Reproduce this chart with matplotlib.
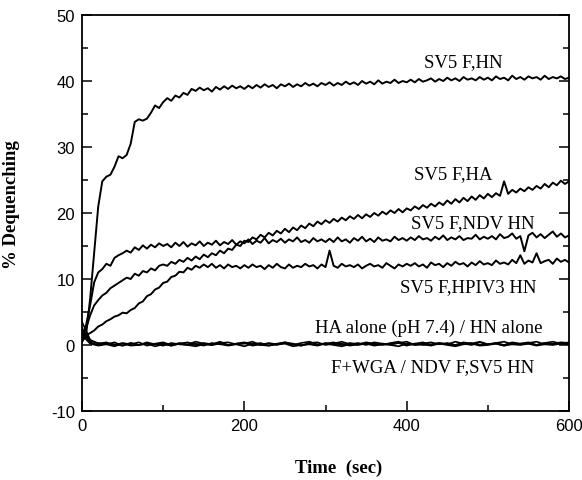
import matplotlib
matplotlib.use("Agg")
import matplotlib.pyplot as plt
from matplotlib.ticker import MultipleLocator
import numpy as np

plt.rcParams['axes.unicode_minus'] = False

# --------------------------------------------------------------------
# Data (read off the figure), rising traces sampled every 5 s
# --------------------------------------------------------------------
sv5_hn = [0.5, 1.5, 7, 14, 21, 24.8, 25.5, 25.8, 27, 28.6,
          28.3, 28.8, 30.5, 33.8, 34.2, 34.0, 34.3, 35.2, 36.3, 35.9,
          36.8, 37.4, 37.0, 37.8, 37.5, 38.2, 37.9, 38.8, 38.5, 39.0,
          38.6, 38.9, 38.4, 39.1, 38.7, 39.2, 38.8, 39.3, 38.9, 39.2,
          38.8,
          39.3, 38.9, 39.4, 39.0, 39.5, 39.1, 39.4, 38.9, 39.5, 39.2,
          39.6, 39.1, 39.5, 39.2, 39.7, 39.3, 39.6, 39.2, 39.7, 39.4,
          39.8, 39.3, 39.7, 39.4, 39.9, 39.5, 39.8, 39.4, 40.0, 39.6,
          39.9, 39.5, 40.1, 39.6, 39.9, 39.7, 40.2, 39.7, 40.0, 39.8,
          40.2, 39.8, 40.3, 39.9, 40.1, 40.4, 39.9, 40.3, 40.0, 40.5,
          40.1, 40.4, 40.0, 40.6, 40.2, 40.4, 40.1, 40.6, 40.2, 40.5,
          40.1, 40.7, 40.3, 40.5, 40.1, 40.8, 40.3, 40.6, 40.2, 40.7,
          40.4, 40.6, 40.2, 40.8, 40.3, 40.6, 40.4, 40.7, 40.3, 40.5]

sv5_ndv = [1.5, 3.0, 6.0, 9.5, 11.0, 11.5, 12.3, 12.0, 13.2, 13.6,
           13.9, 14.3, 14.0, 14.8, 14.4, 15.1, 14.6, 15.2, 14.8, 15.4,
           15.0,
           15.3, 14.8, 15.5, 15.0, 15.6, 14.9, 15.4, 15.1, 15.7, 15.0,
           15.5, 15.2, 15.8, 15.1, 15.6, 15.3, 15.9, 15.2, 15.7, 15.4,
           16.0, 15.3, 15.8, 15.5, 16.2, 15.4, 15.9, 15.6, 16.1, 15.5,
           16.0, 15.7, 16.3, 15.6, 15.9, 15.5, 16.2, 15.7, 16.0, 15.6,
           16.1, 15.6, 16.3, 15.7, 16.0, 15.5, 16.2, 15.8, 16.4, 15.7,
           16.1, 15.6, 16.3, 15.8, 16.0, 15.7, 16.4, 15.9, 16.2, 15.8,
           16.3, 15.9, 16.5, 16.0, 16.2, 15.8, 16.4, 16.0, 16.6, 15.9,
           16.3, 16.0, 16.5, 15.9, 16.2, 16.1, 16.7, 16.0, 16.4, 16.1,
           16.5, 16.0, 16.8, 16.2, 16.4, 16.9, 16.1, 16.5, 14.2, 16.6,
           17.0, 16.3, 16.8, 16.2, 16.7, 17.2, 16.4, 16.9, 16.3, 16.6]

sv5_ha = [1.0, 2.5, 4.5, 6.0, 6.8, 7.5, 7.9, 8.6, 9.0, 9.4,
          9.8, 10.2, 10.0, 10.8, 10.5, 11.2, 11.0, 11.6, 11.3, 12.0,
          12.2,
          12.0, 12.6, 12.3, 12.9, 12.6, 13.2, 12.8, 13.4, 13.0, 13.7,
          13.3, 13.9, 13.6, 14.3, 13.9, 14.6, 14.4, 15.2, 15.0, 15.8,
          15.6, 16.3, 16.0, 16.7, 16.3, 17.0, 16.6, 17.3, 16.9, 17.6,
          17.1, 17.8, 17.4, 18.1, 17.7, 18.4, 18.0, 18.7, 18.3, 18.9,
          18.5, 19.1, 18.7, 19.3, 18.9, 19.5, 19.1, 19.7, 19.2, 19.8,
          19.4, 20.0, 19.6, 20.2, 19.8, 20.4, 20.0, 20.6, 20.1, 20.7,
          20.4, 21.0, 20.6, 21.2, 20.8, 21.4, 21.0, 21.6, 21.2, 21.9,
          21.4, 22.1, 21.6, 22.3, 21.8, 22.5, 22.0, 22.7, 22.2, 22.9,
          22.4, 23.0, 22.6, 24.8, 22.9, 23.5, 23.1, 23.7, 23.3, 23.9,
          23.5, 24.1, 23.7, 24.4, 23.9, 24.6, 24.2, 24.9, 24.4, 24.8]

sv5_hpiv3 = [0.5, 1.5, 1.8, 2.2, 2.8, 3.1, 3.6, 3.9, 4.3, 4.5,
             4.9, 4.8, 5.3, 5.6, 6.3, 6.6, 7.4, 7.7, 8.4, 8.7,
             9.4,
             9.6, 10.3, 10.5, 11.1, 11.0, 11.7, 11.4, 12.0, 11.7, 12.2,
             11.8, 12.3, 11.7, 12.1, 11.6, 12.2, 11.8, 12.0, 11.6, 12.1,
             11.7, 12.2, 11.8, 12.0, 11.5, 12.1, 11.7, 12.3, 11.8, 11.6,
             12.2, 11.7, 12.0, 11.8, 12.3, 11.9, 12.1, 11.6, 12.2, 11.8,
             14.3, 12.0, 11.7, 12.3, 11.9, 12.1, 11.8, 12.2, 11.6, 12.0,
             12.3, 11.9, 12.1, 11.7, 12.4, 12.0, 11.6, 12.2, 11.9, 12.3,
             12.0, 12.4, 11.9, 12.2, 11.7, 12.5, 12.1, 12.3, 11.8, 12.4,
             12.0, 12.6, 12.2, 12.4, 11.9, 12.5, 12.1, 12.7, 12.2, 12.4,
             12.1, 12.8, 12.3, 12.5, 12.2, 12.9, 12.4, 13.6, 12.3, 12.8,
             12.5, 13.9, 12.4, 12.7, 12.9, 12.3, 13.1, 12.6, 12.9, 12.5]

# baseline (control) traces, sampled every 10 s
ha_alone = [2.5, 0.6, 0.3, 0.1, 0.4, -0.1, 0.3, 0.0, 0.4, 0.1, 0.3, -0.1, 0.2, 0.4, 0.0,
            0.3, 0.1, 0.5, 0.0, 0.2, 0.4, 0.1, 0.3, -0.1, 0.2, 0.4, 0.0, 0.3, 0.5, 0.1,
            0.2, 0.4, 0.0, 0.3, 0.1, 0.4, 0.2, 0.0, 0.3, 0.5, 0.1, 0.2, 0.4, 0.0, 0.3,
            0.1, 0.5, 0.2, 0.0, 0.4, 0.1, 0.3, 0.5, 0.1, 0.2, 0.4, 0.0, 0.3, 0.5, 0.2, 0.4]
hn_alone = [3.5, 0.8, 0.2, 0.4, 0.0, 0.3, 0.1, 0.4, -0.1, 0.2, 0.4, 0.0, 0.3, 0.1, 0.5,
            0.2, 0.0, 0.3, 0.4, 0.1, 0.2, 0.5, 0.0, 0.3, 0.1, 0.4, 0.2, -0.1, 0.3, 0.4,
            0.0, 0.2, 0.5, 0.1, 0.3, 0.0, 0.4, 0.2, 0.1, 0.3, 0.5, 0.0, 0.2, 0.4, 0.1,
            0.3, 0.0, 0.4, 0.2, 0.5, 0.1, 0.3, 0.0, 0.4, 0.2, 0.3, 0.5, 0.1, 0.2, 0.4, 0.3]
f_wga = [1.5, 0.2, -0.1, 0.1, -0.2, 0.2, -0.1, 0.0, 0.2, -0.2, 0.1, -0.1, 0.2, 0.0, -0.2,
         0.1, 0.0, 0.2, -0.1, 0.1, -0.2, 0.2, 0.0, -0.1, 0.1, 0.2, -0.2, 0.0, 0.1, -0.1,
         0.2, 0.0, -0.2, 0.1, 0.0, 0.2, -0.1, 0.1, 0.0, -0.2, 0.2, 0.0, 0.1, -0.1, 0.2,
         0.0, -0.2, 0.1, 0.2, -0.1, 0.0, 0.2, -0.1, 0.1, 0.0, 0.2, -0.1, 0.1, 0.0, 0.2, 0.1]
ndv_f_sv5_hn = [2.0, 0.4, 0.0, 0.2, 0.1, -0.1, 0.3, 0.0, 0.2, 0.1, -0.1, 0.3, 0.1, 0.0, 0.2,
                -0.1, 0.3, 0.1, 0.0, 0.2, 0.3, -0.1, 0.1, 0.2, 0.0, 0.3, 0.1, -0.1, 0.2, 0.0,
                0.3, 0.1, 0.2, -0.1, 0.1, 0.3, 0.0, 0.2, 0.1, 0.3, -0.1, 0.2, 0.0, 0.1, 0.3,
                0.1, 0.0, 0.2, 0.3, 0.0, 0.1, 0.2, -0.1, 0.3, 0.1, 0.2, 0.0, 0.3, 0.1, 0.2, 0.3]

# label text and position (time, %)
labels = ["SV5 F,HN", "SV5 F,HA", "SV5 F,NDV HN", "SV5 F,HPIV3 HN",
          "HA alone (pH 7.4) / HN alone", "F+WGA / NDV F,SV5 HN"]
label_t = [470, 457, 481, 476, 427, 432]
label_v = [43.0, 25.9, 18.6, 8.9, 2.6, -3.2]

# --------------------------------------------------------------------
# Figure
# --------------------------------------------------------------------
fig = plt.figure(figsize=(5.82, 4.81), dpi=100)
ax = fig.add_axes([0.1409, 0.1435, 0.8368, 0.8232])

for trace in [sv5_hn, sv5_ndv, sv5_ha, sv5_hpiv3]:
    t = np.arange(len(trace)) * 5.0
    ax.plot(t, trace, '-', color='black', linewidth=1.4)

for trace in [ha_alone, hn_alone, f_wga, ndv_f_sv5_hn]:
    t = np.linspace(0, 600, len(trace))
    ax.plot(t, trace, '-', color='black', linewidth=1.2)

for txt, tx, vy in zip(labels, label_t, label_v):
    ax.text(tx, vy, txt, ha='center', va='center', fontsize=13.5,
            family='Liberation Serif')

# --------------------------------------------------------------------
# Axes styling
# --------------------------------------------------------------------
ax.set_xlim(0, 600)
ax.set_ylim(-10, 50)
ax.xaxis.set_major_locator(MultipleLocator(200))
ax.xaxis.set_minor_locator(MultipleLocator(100))
ax.yaxis.set_major_locator(MultipleLocator(10))
ax.yaxis.set_minor_locator(MultipleLocator(5))
ax.tick_params(which='both', direction='in', top=False, right=True, width=1.1,
               labelsize=12, pad=5)
ax.tick_params(which='major', length=7)
ax.tick_params(which='minor', length=4)
for lab in ax.get_xticklabels() + ax.get_yticklabels():
    lab.set_family('Liberation Sans')
for sp in ax.spines.values():
    sp.set_linewidth(1.3)

ax.set_xlabel("Time  (sec)", fontsize=13.5, fontweight='bold', family='Liberation Serif')
ax.set_ylabel("% Dequenching", fontsize=13.5, fontweight='bold', family='Liberation Serif')
ax.xaxis.set_label_coords(0.526, -0.121)
ax.yaxis.set_label_coords(-0.127, 0.523)

plt.savefig("out.png", dpi=100)
plt.close()
